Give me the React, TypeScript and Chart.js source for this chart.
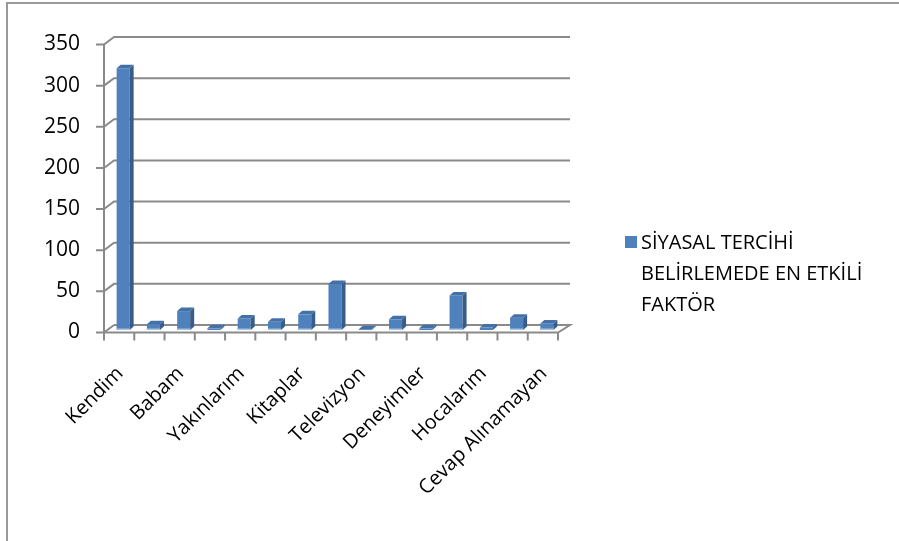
import React, { useEffect, useRef } from "react";
import { Chart, registerables } from "chart.js";

Chart.register(...registerables);

const categories = [
  "Kendim",
  "Annem",
  "Babam",
  "Kardeşlerim",
  "Yakınlarım",
  "Arkadaşlarım",
  "Kitaplar",
  "Gazeteler",
  "Televizyon",
  "İnternet",
  "Deneyimler",
  "Siyasi Liderler",
  "Hocalarım",
  "Diğer",
  "Cevap Alınamayan",
];
const seriesLabel = "SİYASAL TERCİHİ BELİRLEMEDE EN ETKİLİ FAKTÖR";
const legendLines = ["SİYASAL TERCİHİ", "BELİRLEMEDE EN ETKİLİ", "FAKTÖR"];
const values = [318, 7, 23, 2, 14, 10, 19, 56, 1, 13, 2, 42, 3, 15, 8];
const yTicks = [0, 50, 100, 150, 200, 250, 300, 350];

const FRONT = "#4F81BD";
const SIDE = "#385D8A";
const TOP = "#4470A8";
const GRID = "#8a8a8a";
const FONT = "'Open Sans', Lato, sans-serif";

const FRONT_DX = -4;
const FRONT_DY = 2.5;
const BACK_DX = 6;
const BACK_DY = -5;
const BAR_DX = 4;
const BAR_DY = 3.5;

const walls3d = {
  id: "walls3d",
  beforeDatasetsDraw(chart: any) {
    const { ctx, chartArea } = chart;
    const y = chart.scales.y;
    const n = categories.length;
    const catW = (chartArea.right - chartArea.left) / n;
    ctx.save();
    ctx.strokeStyle = GRID;
    ctx.lineWidth = 2;
    ctx.lineCap = "butt";
    const fl = chartArea.left + FRONT_DX;
    const fr = chartArea.right + FRONT_DX;
    const bl = chartArea.left + BACK_DX;
    const br = chartArea.right + BACK_DX;
    yTicks.forEach((v) => {
      const py = y.getPixelForValue(v);
      const fy = py + FRONT_DY;
      const by = py + BACK_DY;
      ctx.beginPath();
      ctx.moveTo(fl - 8, fy);
      ctx.lineTo(fl, fy);
      ctx.lineTo(bl, by);
      if (v !== 0) ctx.lineTo(br + 2, by);
      ctx.stroke();
    });
    const y0 = y.getPixelForValue(0);
    const yTop = y.getPixelForValue(350);
    ctx.beginPath();
    ctx.moveTo(fl, y0 + FRONT_DY + 1);
    ctx.lineTo(fl, yTop + FRONT_DY);
    ctx.stroke();
    ctx.beginPath();
    ctx.moveTo(bl, y0 + BACK_DY);
    ctx.lineTo(br + 2, y0 + BACK_DY);
    ctx.lineTo(fr, y0 + FRONT_DY);
    ctx.lineTo(fl, y0 + FRONT_DY);
    ctx.stroke();
    for (let i = 0; i <= n; i++) {
      const x = fl + i * catW;
      ctx.beginPath();
      ctx.moveTo(x, y0 + FRONT_DY);
      ctx.lineTo(x, y0 + FRONT_DY + 8);
      ctx.stroke();
    }
    ctx.restore();
  },
  afterDatasetsDraw(chart: any) {
    const { ctx } = chart;
    const meta = chart.getDatasetMeta(0);
    ctx.save();
    meta.data.forEach((bar: any) => {
      const { x, y, base, width } = bar.getProps(["x", "y", "base", "width"], true);
      const l = x - width / 2;
      const r = x + width / 2;
      ctx.fillStyle = SIDE;
      ctx.beginPath();
      ctx.moveTo(r, y);
      ctx.lineTo(r + BAR_DX, y - BAR_DY);
      ctx.lineTo(r + BAR_DX, base - BAR_DY);
      ctx.lineTo(r, base);
      ctx.closePath();
      ctx.fill();
      ctx.fillStyle = TOP;
      ctx.beginPath();
      ctx.moveTo(l, y);
      ctx.lineTo(l + BAR_DX, y - BAR_DY);
      ctx.lineTo(r + BAR_DX, y - BAR_DY);
      ctx.lineTo(r, y);
      ctx.closePath();
      ctx.fill();
      if (base - y > 3) {
        ctx.fillStyle = "#a9c1e0";
        ctx.fillRect(l, base - 1.5, width, 1.5);
      }
    });
    ctx.restore();
  },
};

export default function App() {
  const ref = useRef<HTMLCanvasElement | null>(null);

  useEffect(() => {
    if (!ref.current) return;
    const chart = new Chart(ref.current, {
      type: "bar",
      data: {
        labels: categories,
        datasets: [
          {
            label: seriesLabel,
            data: values,
            backgroundColor: FRONT,
            borderWidth: 0,
            barPercentage: 0.43,
            categoryPercentage: 1,
          },
        ],
      },
      options: {
        responsive: false,
        animation: false,
        layout: { padding: { top: 42, right: 337, left: 0, bottom: 0 } },
        plugins: {
          legend: { display: false },
          tooltip: { enabled: false },
        },
        scales: {
          x: {
            offset: true,
            grid: { display: false, drawTicks: false, tickLength: 0 },
            border: { display: false },
            ticks: {
              autoSkip: false,
              maxRotation: 45,
              minRotation: 45,
              padding: 32,
              labelOffset: -3,
              color: "#000",
              font: { family: FONT, size: 20 },
              callback: (_v: any, i: number) => (i % 2 === 0 ? categories[i] : ""),
            },
            afterFit: (s: any) => {
              s.height = 211;
            },
          },
          y: {
            min: 0,
            max: 350,
            grid: { display: false, drawTicks: false, tickLength: 0 },
            border: { display: false },
            ticks: {
              stepSize: 50,
              padding: 28,
              labelOffset: 2.5,
              color: "#000",
              font: { family: FONT, size: 21 },
            },
            afterFit: (s: any) => {
              s.width = 108;
            },
          },
        },
      },
      plugins: [walls3d],
    });
    return () => chart.destroy();
  }, []);

  return (
    <div>
      <div
        style={{
          position: "absolute",
          left: 6,
          top: 2,
          width: 893,
          height: 539,
          boxSizing: "border-box",
          borderTop: "2px solid #9a9a9a",
          borderLeft: "2px solid #9a9a9a",
        }}
      />
      <canvas
        ref={ref}
        width={899}
        height={541}
        style={{ position: "absolute", left: 0, top: 0, display: "block" }}
      />
      <div
        style={{
          position: "absolute",
          left: 625,
          top: 226,
          fontFamily: FONT,
          fontSize: 20,
          lineHeight: "31px",
          color: "#000",
        }}
      >
        <div
          style={{
            position: "absolute",
            left: 0,
            top: 10,
            width: 12,
            height: 12,
            background: FRONT,
          }}
        />
        <div style={{ marginLeft: 16, whiteSpace: "nowrap" }}>
          {legendLines.map((t, i) => (
            <div key={i}>{t}</div>
          ))}
        </div>
      </div>
    </div>
  );
}
